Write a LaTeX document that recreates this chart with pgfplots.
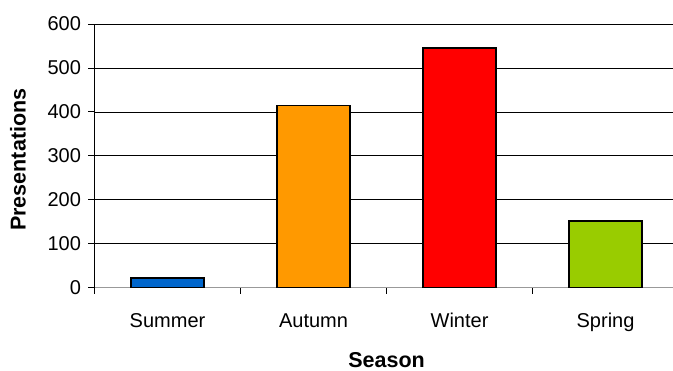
\documentclass[border=0pt]{standalone}
\usepackage{fontspec}
\setmainfont{Liberation Sans}
\usepackage{pgfplots}
\pgfplotsset{compat=1.18}
\definecolor{cSummer}{HTML}{0066CC}
\definecolor{cAutumn}{HTML}{FF9900}
\definecolor{cWinter}{HTML}{FF0000}
\definecolor{cSpring}{HTML}{99CC00}
\begin{document}
\begin{tikzpicture}
\begin{axis}[
  at={(94.5bp,83.5bp)}, anchor=south west,
  scale only axis,
  width=578.5bp, height=263.5bp,
  xmin=-0.5, xmax=3.462,
  ymin=0, ymax=600,
  ytick={0,100,...,600},
  xtick={-0.5,0.5,1.5,2.5},
  xticklabels={},
  extra x ticks={0,1,2,3},
  extra x tick labels={Summer,Autumn,Winter,Spring},
  extra x tick style={major tick length=0pt, xticklabel style={anchor=base, yshift=-39.5bp}},
  axis x line*=bottom, axis y line*=left,
  axis line style={black, line width=0.8bp, -},
  tick align=outside,
  x axis line style={draw=gray!80},
  ymajorgrids,
  grid style={black, line width=0.6bp},
  major tick length=6bp,
  x tick style={black, line width=0.8bp},
  y tick style={black, line width=0.8bp},
  tick label style={font=\fontsize{20bp}{22bp}\selectfont},
  /pgf/number format/assume math mode=true,
  yticklabel style={anchor=east, xshift=-4bp},
  xlabel={\textbf{Season}},
  ylabel={\textbf{Presentations}},
  label style={font=\fontsize{21.5bp}{23bp}\selectfont},
  xlabel style={at={(axis description cs:0.505,-0.3055)}, anchor=base},
  ylabel style={at={(axis description cs:-0.1322,0.485)}, anchor=center},
  ybar, bar width=0.5, bar shift=0pt,
  every axis plot/.append style={draw=black, line width=1.4bp},
]
\addplot[fill=cSummer] coordinates {(0,22)};
\addplot[fill=cAutumn] coordinates {(1,414)};
\addplot[fill=cWinter] coordinates {(2,545)};
\addplot[fill=cSpring] coordinates {(3,151)};
\end{axis}
\pgfresetboundingbox
\path (0,0) rectangle (673bp,371bp);
\end{tikzpicture}
\end{document}
